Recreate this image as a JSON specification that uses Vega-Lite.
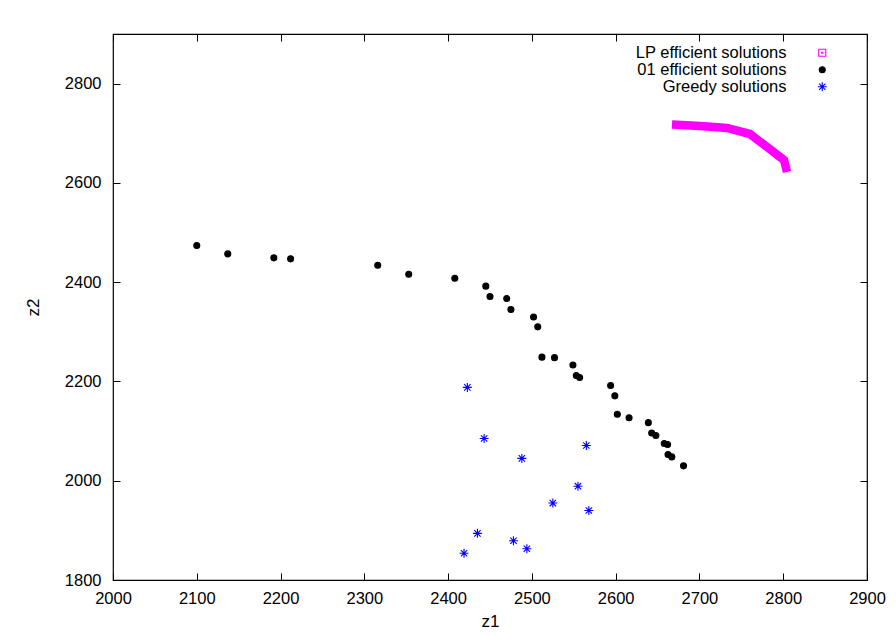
{
  "$schema": "https://vega.github.io/schema/vega-lite/v6.json",
  "width": 754,
  "height": 546,
  "autosize": {"type": "none"},
  "padding": {"left": 113, "top": 34, "right": 29, "bottom": 57},
  "background": "white",
  "config": {
    "font": "Liberation Sans",
    "view": {"stroke": "black", "strokeWidth": 1.2},
    "axis": {
      "grid": false,
      "domain": false,
      "tickColor": "black",
      "tickWidth": 1,
      "tickSize": -7,
      "format": "d",
      "labelFont": "Liberation Sans",
      "labelFontSize": 16.5,
      "labelColor": "black",
      "labelFlush": false,
      "labelOverlap": false,
      "labelBound": false,
      "titleFont": "Liberation Sans",
      "titleFontSize": 17,
      "titleFontWeight": "normal",
      "titleColor": "black"
    },
    "legend": {
      "labelFont": "Liberation Sans",
      "labelFontSize": 16.5,
      "labelColor": "black"
    }
  },
  "data": {
    "values": [
      {"s": "LP efficient solutions", "z1": 2667.2, "z2": 2717.6},
      {"s": "LP efficient solutions", "z1": 2700.6, "z2": 2714.6},
      {"s": "LP efficient solutions", "z1": 2732.9, "z2": 2710.6},
      {"s": "LP efficient solutions", "z1": 2760.3, "z2": 2698.5},
      {"s": "LP efficient solutions", "z1": 2800.9, "z2": 2646.1},
      {"s": "LP efficient solutions", "z1": 2804.5, "z2": 2621.9},
      {"s": "01 efficient solutions", "z1": 2100, "z2": 2474},
      {"s": "01 efficient solutions", "z1": 2137, "z2": 2457},
      {"s": "01 efficient solutions", "z1": 2192, "z2": 2449},
      {"s": "01 efficient solutions", "z1": 2212, "z2": 2447},
      {"s": "01 efficient solutions", "z1": 2316, "z2": 2434},
      {"s": "01 efficient solutions", "z1": 2353, "z2": 2416},
      {"s": "01 efficient solutions", "z1": 2408, "z2": 2408},
      {"s": "01 efficient solutions", "z1": 2445, "z2": 2392},
      {"s": "01 efficient solutions", "z1": 2450, "z2": 2371},
      {"s": "01 efficient solutions", "z1": 2470, "z2": 2367},
      {"s": "01 efficient solutions", "z1": 2475, "z2": 2345},
      {"s": "01 efficient solutions", "z1": 2502, "z2": 2330},
      {"s": "01 efficient solutions", "z1": 2507, "z2": 2310},
      {"s": "01 efficient solutions", "z1": 2512, "z2": 2249},
      {"s": "01 efficient solutions", "z1": 2527, "z2": 2248},
      {"s": "01 efficient solutions", "z1": 2549, "z2": 2233},
      {"s": "01 efficient solutions", "z1": 2553, "z2": 2212},
      {"s": "01 efficient solutions", "z1": 2557, "z2": 2208},
      {"s": "01 efficient solutions", "z1": 2594, "z2": 2192},
      {"s": "01 efficient solutions", "z1": 2599, "z2": 2171},
      {"s": "01 efficient solutions", "z1": 2602, "z2": 2134},
      {"s": "01 efficient solutions", "z1": 2616, "z2": 2127},
      {"s": "01 efficient solutions", "z1": 2639, "z2": 2117},
      {"s": "01 efficient solutions", "z1": 2643, "z2": 2096},
      {"s": "01 efficient solutions", "z1": 2648, "z2": 2091},
      {"s": "01 efficient solutions", "z1": 2658, "z2": 2075},
      {"s": "01 efficient solutions", "z1": 2662, "z2": 2073},
      {"s": "01 efficient solutions", "z1": 2662.5, "z2": 2053},
      {"s": "01 efficient solutions", "z1": 2667, "z2": 2048},
      {"s": "01 efficient solutions", "z1": 2681, "z2": 2030},
      {"s": "Greedy solutions", "z1": 2423, "z2": 2188},
      {"s": "Greedy solutions", "z1": 2443, "z2": 2085},
      {"s": "Greedy solutions", "z1": 2488, "z2": 2045},
      {"s": "Greedy solutions", "z1": 2565, "z2": 2071},
      {"s": "Greedy solutions", "z1": 2555, "z2": 1989},
      {"s": "Greedy solutions", "z1": 2525, "z2": 1955},
      {"s": "Greedy solutions", "z1": 2568, "z2": 1940},
      {"s": "Greedy solutions", "z1": 2435, "z2": 1894},
      {"s": "Greedy solutions", "z1": 2478, "z2": 1879},
      {"s": "Greedy solutions", "z1": 2494, "z2": 1863},
      {"s": "Greedy solutions", "z1": 2419, "z2": 1854}
    ]
  },
  "layer": [
    {
      "transform": [{"filter": "datum.s === 'LP efficient solutions'"}],
      "mark": {"type": "line", "color": "#ff00ff", "strokeWidth": 8.5, "strokeCap": "butt", "strokeJoin": "miter"},
      "encoding": {
        "x": {
          "field": "z1", "type": "quantitative",
          "scale": {"domain": [2000, 2900], "nice": false, "zero": false},
          "axis": {"orient": "bottom", "title": "z1", "values": [2000, 2100, 2200, 2300, 2400, 2500, 2600, 2700, 2800, 2900], "labelPadding": 17.7, "titlePadding": 6}
        },
        "y": {
          "field": "z2", "type": "quantitative",
          "scale": {"domain": [1800, 2900], "nice": false, "zero": false},
          "axis": {"orient": "left", "title": "z2", "values": [1800, 2000, 2200, 2400, 2600, 2800], "labelPadding": 19, "titlePadding": 22}
        }
      }
    },
    {
      "transform": [{"filter": "datum.s !== 'LP efficient solutions'"}],
      "mark": {"type": "point", "strokeWidth": 1.1, "opacity": 1, "size": 56},
      "encoding": {
        "x": {
          "field": "z1", "type": "quantitative",
          "axis": {"orient": "top", "title": null, "labels": false, "values": [2000, 2100, 2200, 2300, 2400, 2500, 2600, 2700, 2800, 2900]}
        },
        "y": {
          "field": "z2", "type": "quantitative",
          "axis": {"orient": "right", "title": null, "labels": false, "values": [1800, 2000, 2200, 2400, 2600, 2800]}
        },
        "shape": {
          "field": "s", "type": "nominal", "title": null,
          "scale": {
            "domain": ["LP efficient solutions", "01 efficient solutions", "Greedy solutions"],
            "range": [
              "M-0.95,-0.95H0.95V0.95H-0.95ZM-0.15,-0.15H0.15V0.15H-0.15Z",
              "M0.8,0A0.8,0.8 0 1,1 -0.8,0A0.8,0.8 0 1,1 0.8,0Z",
              "M-1.2,0H1.2M0,-1.2V1.2M-0.85,-0.85L0.85,0.85M-0.85,0.85L0.85,-0.85"
            ]
          },
          "legend": {
            "orient": "none", "legendX": 701, "legendY": 10.5,
            "labelAlign": "right", "labelOffset": -44, "rowPadding": -1,
            "symbolSize": 56, "symbolStrokeWidth": 1.1, "labelLimit": 400
          }
        },
        "fill": {
          "field": "s", "type": "nominal", "title": null,
          "scale": {
            "domain": ["LP efficient solutions", "01 efficient solutions", "Greedy solutions"],
            "range": ["transparent", "#000000", "transparent"]
          }
        },
        "stroke": {
          "field": "s", "type": "nominal", "title": null,
          "scale": {
            "domain": ["LP efficient solutions", "01 efficient solutions", "Greedy solutions"],
            "range": ["#ff00ff", "#000000", "#0000ff"]
          }
        }
      }
    }
  ],
  "resolve": {"axis": {"x": "independent", "y": "independent"}}
}
